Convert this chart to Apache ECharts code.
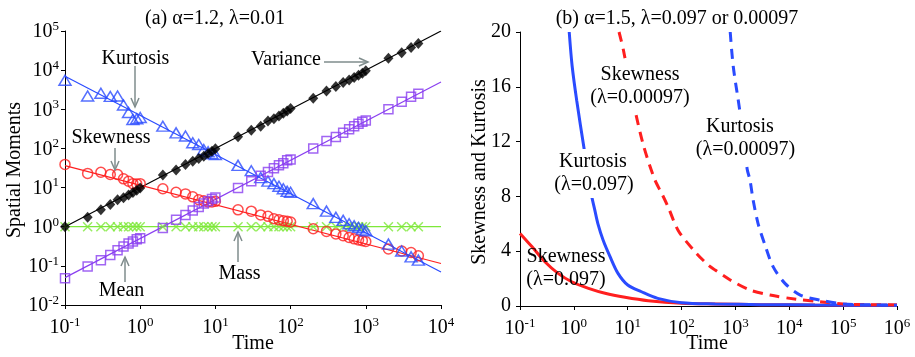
<!DOCTYPE html>
<html><head><meta charset="utf-8">
<script src="https://cdn.jsdelivr.net/npm/echarts@6/dist/echarts.min.js"></script>
<style>html,body{margin:0;padding:0;background:#fff}#c{width:915px;height:357px}</style>
</head><body><div id="c"></div>
<script>
// ---------- Panel (a) data ----------
const times = [0.1,0.2,0.3,0.4,0.5,0.6,0.7,0.8,0.9,
  1,2,3,4,5,6,7,8,9,
  10,20,30,40,50,60,70,80,90,
  100,200,300,400,500,600,700,800,900,
  1000,2000,3000,4000,5000];
const variance = [1.0,1.75,2.7,3.7,4.9,5.5,6.5,7.5,8.5,
  9.8,21,28,39,47,55,63,74,85,
  98,200,290,370,500,575,670,790,910,
  1050,1900,2950,3800,4800,5600,6500,7400,8300,
  9600,20000,28000,38000,48000];
const mean = [0.048,0.096,0.14,0.19,0.25,0.31,0.37,0.42,0.48,
  0.51,0.93,1.5,2.0,2.6,3.2,3.9,4.5,5.1,
  5.6,9.8,14.5,20,25,31,37,42,50,
  52,100,155,195,250,310,370,430,480,
  520,1000,1550,2100,2500];
const kurtosis = [5500,2190,2570,2130,2190,1290,830,550,575,
  615,370,250,208,140,126,94,82,73,
  70,37,27,18,14.6,12.6,10.8,9.3,8.0,
  7.6,3.9,2.5,1.73,1.45,1.19,1.06,0.96,0.87,
  0.79,0.36,0.24,0.17,0.14];
const skewness = [39,23,24.7,21.5,21.5,16.7,14.5,12.6,12.4,
  12.6,9.3,7.6,6.9,5.8,4.9,4.6,4.3,4.3,
  4.45,2.7,2.5,2.0,1.84,1.6,1.5,1.43,1.37,
  1.32,0.89,0.76,0.65,0.59,0.53,0.49,0.46,0.44,
  0.42,0.27,0.24,0.22,0.18];
const mass = times.map(() => 1);
// fitted power-law lines (end points)
const fitT = [0.1, 10000];
const varianceFit = [1, 100000];
const meanFit = [0.05, 5000];
const kurtosisFit = [7000, 0.07];
const skewnessFit = [36.5, 0.115];
const massFit = [1, 1];

// ---------- Panel (b) data ----------
const skewFastT = [0.1,0.166,0.29,0.51,0.91,1.87,3.8,8.9,24,100,420,3000,30000,1000000];
const skewFastV = [5.3,4.34,3.23,2.38,1.77,1.29,0.93,0.64,0.39,0.2,0.15,0.1,0.07,0.05];
const kurtFastT = [0.82,0.93,1.13,1.56,2.1,2.45,2.8,3.5,4.7,6.6,10,18,36,100,420,3000,30000,1000000];
const kurtFastV = [20,17.5,15.0,11.4,8.2,7.0,6.0,4.8,3.6,2.38,1.53,1.04,0.56,0.24,0.15,0.1,0.07,0.05];
const skewSlowT = [6.9,8.3,13.5,20,32,43,56,87,178,310,420,800,1860,4400,13500,37000,100000,270000,1000000];
const skewSlowV = [20,18.7,14.4,11.6,9.2,8.2,7.25,5.5,3.96,3.0,2.63,1.9,1.17,0.8,0.49,0.31,0.15,0.1,0.08];
const kurtSlowT = [800,910,1200,1650,1860,2140,2640,3540,5000,8300,16000,42000,100000,350000,1000000];
const kurtSlowV = [20,17.5,14.3,10.0,9.2,7.7,6.0,4.45,2.87,1.65,0.8,0.39,0.15,0.08,0.06];

const FONT = 'Liberation Serif';
const BLUE = '#2a4bff', RED = '#ff1f1f', PURPLE = '#8a3ff0', GREEN = '#7ee83a', GRAY = '#7f8c8c';

const zip = (a, b) => a.map((v, i) => [v, b[i]]);
const sup = v => '{b|10}{s|' + Math.round(Math.log10(v)) + '}';
const rich = {
  b: {fontSize: 20, fontFamily: FONT, color: '#000', lineHeight: 22, verticalAlign: 'bottom'},
  s: {fontSize: 13, fontFamily: FONT, color: '#000', lineHeight: 13, verticalAlign: 'top'}
};
const axisCommon = {
  axisLine: {show: true, lineStyle: {color: '#000', width: 1}},
  axisTick: {show: true, inside: false, length: 4, lineStyle: {color: '#000'}},
  splitLine: {show: false},
  minorTick: {show: false}
};

const chart = echarts.init(document.getElementById('c'), null, {renderer: 'canvas'});

function scatter(name, data, symbol, size, color, filled) {
  return {
    name, type: 'scatter', xAxisIndex: 0, yAxisIndex: 0, data, symbol, symbolSize: size,
    itemStyle: filled ? {color} : {color: 'rgba(0,0,0,0)', borderColor: color, borderWidth: 1.5},
    z: 4
  };
}
function fit(data, color) {
  return {type: 'line', xAxisIndex: 0, yAxisIndex: 0, data, symbol: 'none',
    lineStyle: {color, width: 1.2}, z: 3};
}
function curve(t, v, color, dashed) {
  return {type: 'line', xAxisIndex: 1, yAxisIndex: 1, data: zip(t, v), symbol: 'none', smooth: 0.3,
    lineStyle: {color, width: 3, type: dashed ? [10, 7] : 'solid'}, z: 3};
}

const txt = (x, y, text, bg) => ({
  type: 'text', x, y, z: 100,
  style: Object.assign({text, fill: '#000', font: '20px "' + FONT + '"', align: 'center', verticalAlign: 'middle'},
    bg ? {backgroundColor: '#fff', padding: [3, 2]} : {})
});
const seg = (pts) => ({type: 'polyline', z: 100, shape: {points: pts}, style: {stroke: GRAY, lineWidth: 1.5, fill: null}});

chart.setOption({
  animation: false,
  backgroundColor: '#fff',
  grid: [
    {left: 65, top: 31, width: 376, height: 274},
    {left: 520, top: 32, width: 377, height: 274}
  ],
  xAxis: [
    Object.assign({gridIndex: 0, type: 'log', logBase: 10, min: 0.1, max: 10000, splitNumber: 5,
      axisLabel: {formatter: sup, rich, margin: 11}}, axisCommon),
    Object.assign({gridIndex: 1, type: 'log', logBase: 10, min: 0.1, max: 1000000, splitNumber: 7,
      axisLabel: {formatter: sup, rich, margin: 11}}, axisCommon)
  ],
  yAxis: [
    Object.assign({gridIndex: 0, type: 'log', logBase: 10, min: 0.01, max: 100000, splitNumber: 7,
      axisLabel: {formatter: sup, rich, margin: 6}}, axisCommon),
    Object.assign({gridIndex: 1, type: 'value', min: 0, max: 20, interval: 4,
      axisLabel: {fontSize: 20, fontFamily: FONT, color: '#000', margin: 9}}, axisCommon)
  ],
  series: [
    fit(zip(fitT, massFit), GREEN),
    fit(zip(fitT, skewnessFit), RED),
    fit(zip(fitT, kurtosisFit), BLUE),
    fit(zip(fitT, meanFit), PURPLE),
    fit(zip(fitT, varianceFit), '#000'),
    scatter('Mass', zip(times, mass), 'path://M0,0L10,10M10,0L0,10', 9, GREEN, false),
    scatter('Skewness', zip(times, skewness), 'circle', 10, RED, false),
    scatter('Kurtosis', zip(times, kurtosis), 'triangle', [12, 10], BLUE, false),
    scatter('Mean', zip(times, mean), 'rect', 9, PURPLE, false),
    scatter('Variance', zip(times, variance), 'diamond', [10, 11], '#000', true),
    curve(skewFastT, skewFastV, RED, false),
    curve(kurtFastT, kurtFastV, BLUE, false),
    curve(skewSlowT, skewSlowV, RED, true),
    curve(kurtSlowT, kurtSlowV, BLUE, true)
  ],
  graphic: [
    txt(215, 19, '(a) α=1.2, λ=0.01'),
    txt(677, 19, '(b) α=1.5, λ=0.097 or 0.00097'),
    txt(253, 344, 'Time'),
    txt(707, 344, 'Time'),
    Object.assign(txt(0, 0, 'Spatial Moments'), {x: 15, y: 170, rotation: Math.PI / 2}),
    Object.assign(txt(0, 0, 'Skewness and Kurtosis'), {x: 480, y: 172, rotation: Math.PI / 2}),
    // panel (a) annotations
    txt(135.5, 59, 'Kurtosis'),
    seg([[135, 66], [135, 107]]), seg([[131, 98], [135, 107], [139, 98]]),
    txt(286, 60, 'Variance'),
    seg([[324, 62], [368, 62]]), seg([[359, 58], [368, 62], [359, 66]]),
    txt(111, 138, 'Skewness'),
    seg([[115, 148], [115, 170]]), seg([[111, 161], [115, 170], [119, 161]]),
    txt(121.5, 291, 'Mean'),
    seg([[125, 282], [125, 257]]), seg([[121, 266], [125, 257], [129, 266]]),
    txt(239.5, 274, 'Mass'),
    seg([[238, 262], [238, 232]]), seg([[234, 241], [238, 232], [242, 241]]),
    // panel (b) annotations
    txt(640, 75, 'Skewness', true),
    txt(640, 98, '(λ=0.00097)', true),
    txt(740, 127, 'Kurtosis', true),
    txt(745.5, 150, '(λ=0.00097)', true),
    txt(593, 162, 'Kurtosis', true),
    txt(594, 185, '(λ=0.097)', true),
    txt(566, 257, 'Skewness'),
    txt(566, 280, '(λ=0.097)')
  ]
});
</script></body></html>
